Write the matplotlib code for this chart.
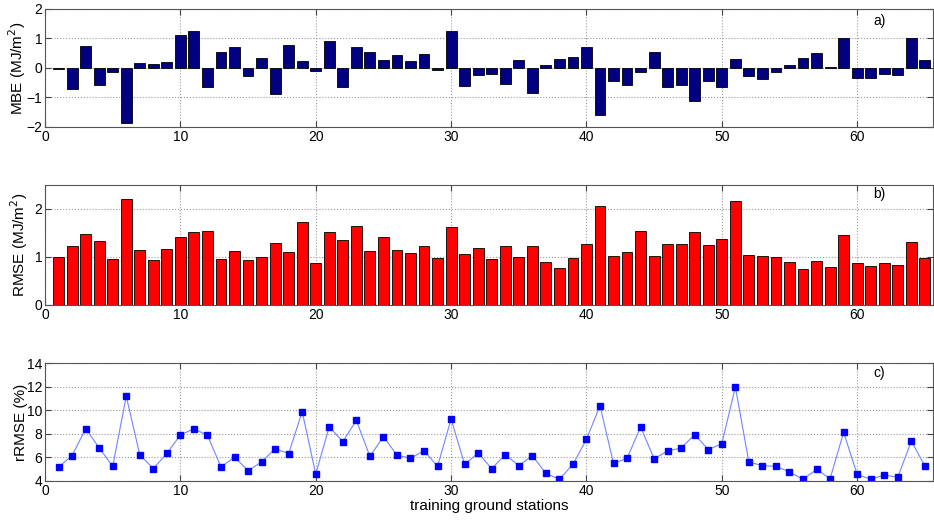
import numpy as np
import matplotlib
matplotlib.use("Agg")
import matplotlib.pyplot as plt

plt.rcParams['font.family'] = ['Liberation Sans', 'DejaVu Sans']
plt.rcParams['font.size'] = 9

stations = np.arange(1, 66)

mbe = [-0.03, -0.71, 0.75, -0.58, -0.13, -1.85, 0.17, 0.13, 0.22, 1.11,
       1.26, -0.65, 0.54, 0.70, -0.28, 0.35, -0.88, 0.78, 0.25, -0.11,
       0.90, -0.65, 0.70, 0.55, 0.26, 0.43, 0.25, 0.46, -0.07, 1.26,
       -0.60, -0.24, -0.19, -0.53, 0.28, -0.85, 0.10, 0.30, 0.37, 0.71,
       -1.58, -0.44, -0.56, -0.12, 0.54, -0.66, -0.57, -1.11, -0.44, -0.66,
       0.30, -0.28, -0.38, -0.13, 0.10, 0.34, 0.52, 0.02, 1.02, -0.33,
       -0.35, -0.21, -0.24, 1.00, 0.26]

rmse = [0.99, 1.22, 1.47, 1.34, 0.96, 2.21, 1.14, 0.93, 1.16, 1.42,
        1.53, 1.54, 0.96, 1.12, 0.93, 0.99, 1.29, 1.11, 1.73, 0.87,
        1.51, 1.36, 1.64, 1.12, 1.42, 1.14, 1.08, 1.22, 0.98, 1.63,
        1.07, 1.18, 0.96, 1.22, 0.99, 1.22, 0.89, 0.78, 0.98, 1.27,
        2.07, 1.03, 1.11, 1.55, 1.02, 1.27, 1.27, 1.53, 1.24, 1.37,
        2.17, 1.05, 1.03, 0.99, 0.89, 0.75, 0.91, 0.80, 1.45, 0.87,
        0.81, 0.87, 0.84, 1.32, 0.98]

rrmse = [5.19, 6.15, 8.43, 6.82, 5.24, 11.18, 6.23, 5.05, 6.34, 7.90,
         8.43, 7.87, 5.19, 6.03, 4.88, 5.61, 6.74, 6.32, 9.88, 4.59,
         8.60, 7.33, 9.14, 6.09, 7.76, 6.20, 5.92, 6.57, 5.24, 9.25,
         5.41, 6.37, 5.05, 6.23, 5.30, 6.15, 4.65, 4.14, 5.41, 7.53,
         10.38, 5.50, 5.92, 8.58, 5.89, 6.54, 6.80, 7.93, 6.66, 7.16,
         11.97, 5.61, 5.30, 5.24, 4.76, 4.14, 4.99, 4.20, 8.12, 4.56,
         4.14, 4.51, 4.31, 7.39, 5.27]

fig = plt.figure(figsize=(9.34, 5.2), dpi=100)
ax1 = fig.add_axes([0.0482, 0.7558, 0.9507, 0.2269])
ax2 = fig.add_axes([0.0482, 0.4135, 0.9507, 0.2308])
ax3 = fig.add_axes([0.0482, 0.0750, 0.9507, 0.2269])


def matlab_style(ax):
    ax.set_xlim(0, 65.6)
    ax.set_xticks([0, 10, 20, 30, 40, 50, 60])
    ax.grid(True, linestyle=':', color='#999999', linewidth=0.8)
    ax.set_axisbelow(True)
    ax.tick_params(direction='in', top=True, right=True, length=4,
                   color='#444444', labelsize=10, pad=2)
    for s in ax.spines.values():
        s.set_color('#555555')
        s.set_linewidth(0.8)


ax1.bar(stations, mbe, width=0.8, color='#000080', edgecolor='black', linewidth=0.6)
ax1.set_ylim(-2, 2)
ax1.set_yticks([-2, -1, 0, 1, 2])
ax1.set_ylabel('MBE (MJ/m$^2$)', fontsize=11, labelpad=-1)
ax1.text(61.2, 1.45, 'a)', fontsize=10)
matlab_style(ax1)

ax2.bar(stations, rmse, width=0.8, color='#ff0000', edgecolor='black', linewidth=0.6)
ax2.set_ylim(0, 2.5)
ax2.set_yticks([0, 1, 2])
ax2.set_ylabel('RMSE (MJ/m$^2$)', fontsize=11, labelpad=3)
ax2.text(61.2, 2.23, 'b)', fontsize=10)
matlab_style(ax2)

ax3.plot(stations, rrmse, color='#6f86ff', linewidth=0.8, marker='s',
         markersize=4, markerfacecolor='#0000ff', markeredgecolor='#0000ff')
ax3.set_ylim(4, 14)
ax3.set_yticks([4, 6, 8, 10, 12, 14])
ax3.set_ylabel('rRMSE (%)', fontsize=11, labelpad=-1)
ax3.set_xlabel('training ground stations', fontsize=11, labelpad=1)
ax3.text(61.2, 12.8, 'c)', fontsize=10)
matlab_style(ax3)

fig.savefig('out.png', dpi=100)
